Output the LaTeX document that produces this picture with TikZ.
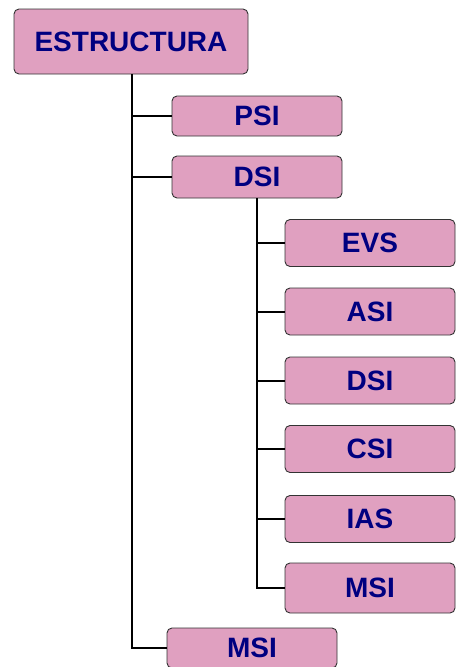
\documentclass[tikz,border=0pt]{standalone}
\usepackage{fontspec}
\setmainfont{Liberation Sans}
\begin{document}
\definecolor{boxpink}{HTML}{E0A0C0}
\definecolor{labelnavy}{HTML}{000080}
\begin{tikzpicture}[x=1pt,y=-1pt,
  item/.style={draw=black!80, line width=0.9pt, fill=boxpink, rounded corners=5pt,
    text=labelnavy, font=\fontsize{28}{30}\selectfont\bfseries,
    inner sep=0pt, anchor=center},
  wide/.style={item, minimum width=170pt, minimum height=42pt},
  sub/.style={item, minimum width=170pt, minimum height=47pt},
  link/.style={draw=black, line width=2pt}]
  \useasboundingbox (0,0) rectangle (456,667);

  % top level
  \node[item, minimum width=234pt, minimum height=65pt] (root) at (131,41.5) {ESTRUCTURA};
  \node[wide, minimum height=40pt] (psi) at (257,116) {PSI};
  \node[wide] (dsi) at (257,177) {DSI};
  \node[wide, minimum height=40pt] (msi) at (252,648) {MSI};

  % activities of DSI
  \node[sub] (evs) at (370,243)   {EVS};
  \node[sub] (asi) at (370,311.5) {ASI};
  \node[sub] (dsis) at (370,380.5) {DSI};
  \node[sub] (csi) at (370,449)   {CSI};
  \node[sub] (ias) at (370,519)   {IAS};
  \node[sub, minimum height=50pt] (msis) at (370,588) {MSI};

  % connectors from the root
  \coordinate (rtrunk) at (132,0);
  \draw[link] (root.south -| rtrunk) |- (msi.west);
  \draw[link] (psi.west) -- (psi.west -| rtrunk);
  \draw[link] (dsi.west) -- (dsi.west -| rtrunk);

  % connectors from DSI
  \coordinate (dtrunk) at (257,0);
  \draw[link] (dsi.south -| dtrunk) |- (msis.west);
  \foreach \n in {evs,asi,dsis,csi,ias}
    \draw[link] (\n.west) -- (\n.west -| dtrunk);
\end{tikzpicture}
\end{document}
